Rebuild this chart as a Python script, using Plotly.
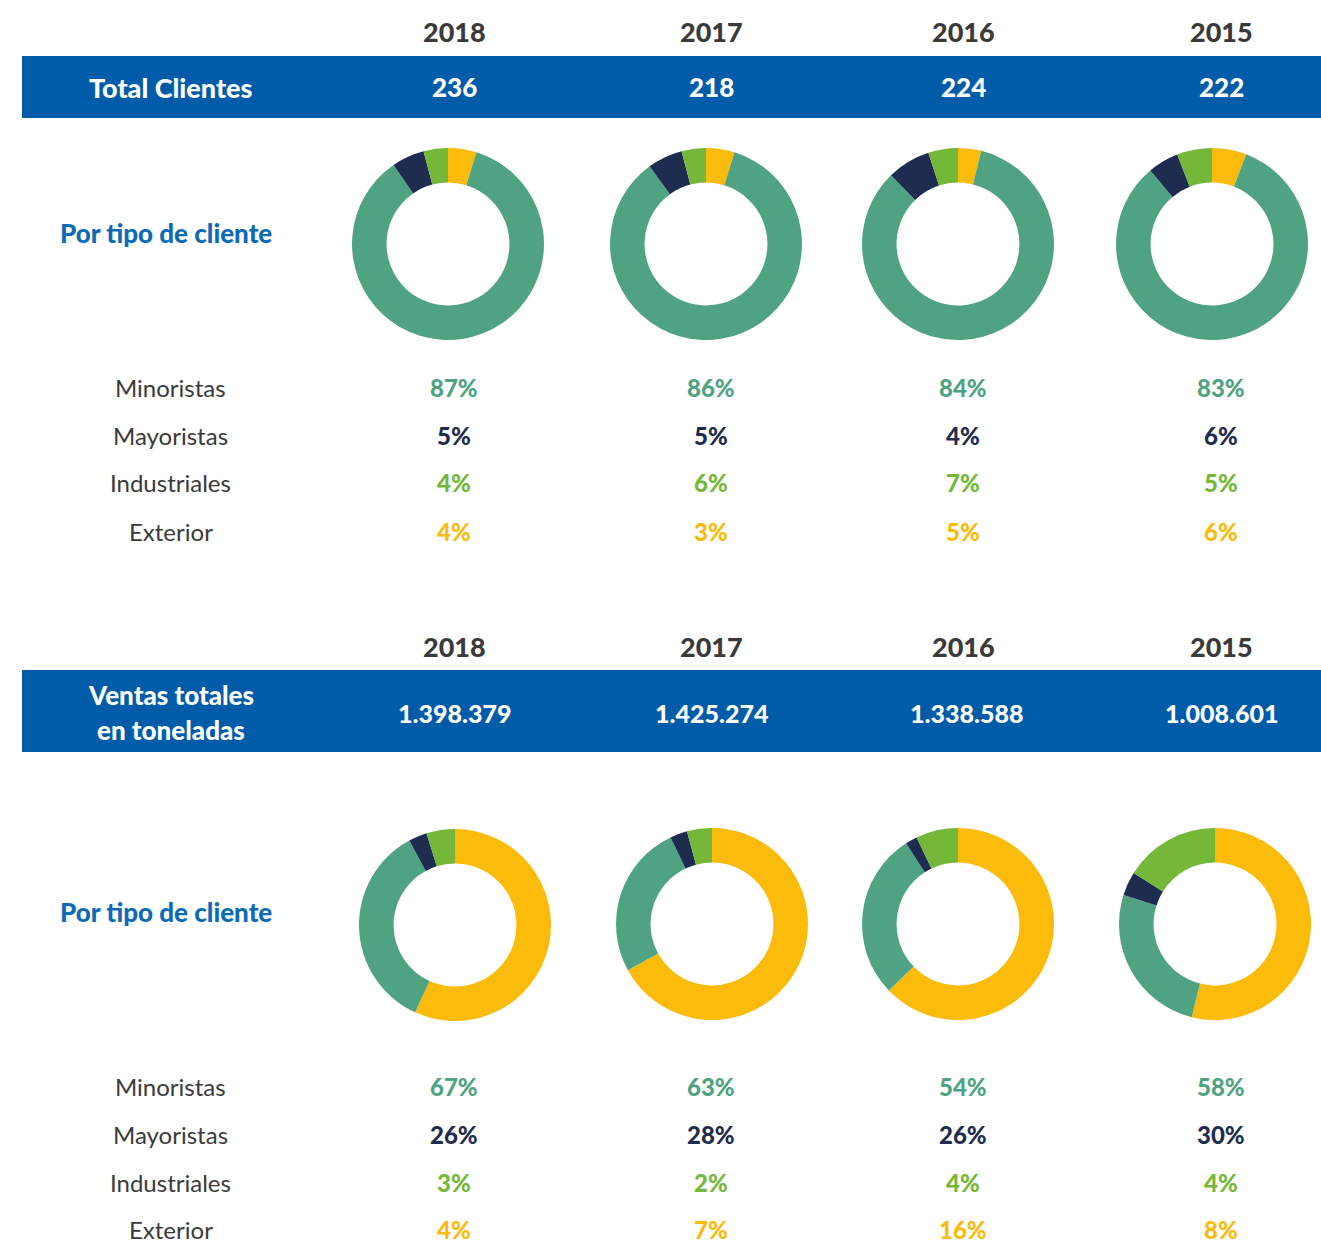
import plotly.graph_objects as go

W, H = 1321, 1243

years = ["2018", "2017", "2016", "2015"]
total_clientes = ["236", "218", "224", "222"]
ventas_toneladas = ["1.398.379", "1.425.274", "1.338.588", "1.008.601"]
categories = ["Minoristas", "Mayoristas", "Industriales", "Exterior"]

# Percentage labels printed under each donut (per category, per year)
clientes_minoristas = [87, 86, 84, 83]
clientes_mayoristas = [5, 5, 4, 6]
clientes_industriales = [4, 6, 7, 5]
clientes_exterior = [4, 3, 5, 6]

ventas_minoristas = [67, 63, 54, 58]
ventas_mayoristas = [26, 28, 26, 30]
ventas_industriales = [3, 2, 4, 4]
ventas_exterior = [4, 7, 16, 8]

# Slice sizes as drawn in the donuts (read from the rings), order = categories
ring_clientes = {
    "2018": [85.6, 5.5, 4.1, 4.8],
    "2017": [85.2, 5.9, 4.1, 4.8],
    "2016": [83.8, 7.3, 5.0, 3.9],
    "2015": [83.1, 5.2, 5.9, 5.8],
}
ring_ventas = {
    "2018": [35.3, 3.1, 4.8, 56.8],
    "2017": [25.9, 2.9, 4.2, 67.0],
    "2016": [28.1, 2.0, 7.1, 62.8],
    "2015": [26.0, 4.0, 16.1, 53.9],
}

cat_colors = {
    "Minoristas": "#50A382",
    "Mayoristas": "#1E2C50",
    "Industriales": "#74B739",
    "Exterior": "#FBBB0A",
}
BAND = "#005CA9"
BLUE_TXT = "#0D6BB5"
GRAY = "#3A3A3A"
FONT = "Lato"

# layout positions in pixels
col_x = [454, 711, 963, 1221]
label_x = 171


def px(x):
    return x / W


def py(y):
    return 1 - y / H


fig = go.Figure()
annotations = []
shapes = []


def text(x, y, s, size, color, weight="normal"):
    annotations.append(dict(
        x=px(x), y=py(y), xref="paper", yref="paper",
        text=s, showarrow=False,
        xanchor="center", yanchor="middle",
        font=dict(family=FONT, size=size, color=color, weight=weight)))


def add_donut(cx, cy, r, values):
    draw_order = ["Exterior", "Minoristas", "Mayoristas", "Industriales"]
    vals = [values[categories.index(c)] for c in draw_order]
    fig.add_trace(go.Pie(
        values=vals, labels=draw_order, sort=False, direction="clockwise",
        rotation=0, hole=0.64, textinfo="none", hoverinfo="label+value",
        marker=dict(colors=[cat_colors[c] for c in draw_order],
                    line=dict(width=0)),
        domain=dict(x=[px(cx - r), px(cx + r)], y=[py(cy + r), py(cy - r)]),
        showlegend=False))


BW = 900

# ---------- Section 1 : clientes ----------
for i, yr in enumerate(years):
    text(col_x[i], 31, yr, 27, GRAY, BW)
shapes.append(dict(type="rect", xref="paper", yref="paper",
                   x0=px(22), x1=1, y0=py(118), y1=py(56),
                   fillcolor=BAND, line=dict(width=0), layer="below"))
text(label_x, 87, "Total Clientes", 27, "white", BW)
for i, v in enumerate(total_clientes):
    text(col_x[i], 87, v, 26, "white", BW)
text(166, 233, "Por tipo de cliente", 26, BLUE_TXT, BW)

centers1 = [(448, 244), (706, 244), (958, 244), (1212, 244)]
for i, yr in enumerate(years):
    add_donut(centers1[i][0], centers1[i][1], 96, ring_clientes[yr])

clientes_rows = [clientes_minoristas, clientes_mayoristas,
                 clientes_industriales, clientes_exterior]
rows1_y = [387, 435, 483, 531]
for k, cat in enumerate(categories):
    text(label_x, rows1_y[k], cat, 24, GRAY)
    for i in range(4):
        text(col_x[i], rows1_y[k], f"{clientes_rows[k][i]}%", 24,
             cat_colors[cat], BW)

# ---------- Section 2 : ventas ----------
for i, yr in enumerate(years):
    text(col_x[i], 646, yr, 27, GRAY, BW)
shapes.append(dict(type="rect", xref="paper", yref="paper",
                   x0=px(22), x1=1, y0=py(752), y1=py(670),
                   fillcolor=BAND, line=dict(width=0), layer="below"))
text(label_x, 695, "Ventas totales", 26, "white", BW)
text(label_x, 730, "en toneladas", 26, "white", BW)
vent_x = [454, 711, 966, 1221]
for i, v in enumerate(ventas_toneladas):
    text(vent_x[i], 713, v, 25, "white", BW)
text(166, 912, "Por tipo de cliente", 26, BLUE_TXT, BW)

centers2 = [(455, 925), (712, 924), (958, 924), (1215, 924)]
for i, yr in enumerate(years):
    add_donut(centers2[i][0], centers2[i][1], 96, ring_ventas[yr])

ventas_rows = [ventas_minoristas, ventas_mayoristas,
               ventas_industriales, ventas_exterior]
rows2_y = [1086, 1134, 1182, 1229]
for k, cat in enumerate(categories):
    text(label_x, rows2_y[k], cat, 24, GRAY)
    for i in range(4):
        text(col_x[i], rows2_y[k], f"{ventas_rows[k][i]}%", 24,
             cat_colors[cat], BW)

fig.update_layout(
    width=W, height=H, margin=dict(l=0, r=0, t=0, b=0),
    paper_bgcolor="white", plot_bgcolor="white",
    annotations=annotations, shapes=shapes,
    font=dict(family=FONT),
)
fig.write_html(
    "out.html",
    config={"displayModeBar": False},
    post_script="document.body.style.margin='0';"
                "document.body.style.overflow='hidden';",
)
